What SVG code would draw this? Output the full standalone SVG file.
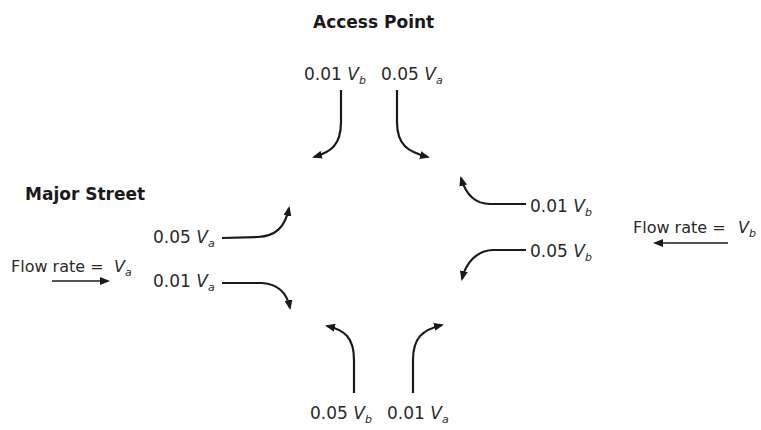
<svg xmlns="http://www.w3.org/2000/svg" width="761" height="430" viewBox="0 0 761 430">
<defs>
<marker id="ah" markerUnits="userSpaceOnUse" markerWidth="10" markerHeight="8" refX="8" refY="4" orient="auto">
<path d="M0,0 L10,4 L0,8 z" fill="#1a1a1a"/>
</marker>
<style>
text{font-family:"DejaVu Sans","Liberation Sans",sans-serif;fill:#2a2a2a;font-size:17px}
.h{font-weight:bold;font-size:17px;fill:#1a1a1a}
.v{font-style:italic}
.s{font-style:italic;font-size:11px}
.fr{font-size:16px}
.c{fill:none;stroke:#1a1a1a;stroke-width:2.2;marker-end:url(#ah)}
.f{fill:none;stroke:#1a1a1a;stroke-width:1.6;marker-end:url(#ah)}
</style>
</defs>
<rect width="761" height="430" fill="#ffffff"/>
<g id="title-access"><text class="h" x="313" y="28">Access Point</text></g>
<g id="title-major"><text class="h" x="25" y="200">Major Street</text></g>
<g id="top-labels">
<text x="304" y="80">0.01 <tspan class="v">V</tspan><tspan class="s" dy="4">b</tspan></text>
<text x="381" y="80">0.05 <tspan class="v">V</tspan><tspan class="s" dy="4">a</tspan></text>
</g>
<g id="left-labels">
<text x="153" y="243">0.05 <tspan class="v">V</tspan><tspan class="s" dy="4">a</tspan></text>
<text x="153" y="287">0.01 <tspan class="v">V</tspan><tspan class="s" dy="4">a</tspan></text>
<text class="fr" x="11" y="272">Flow rate = <tspan class="v" x="114">V</tspan><tspan class="s" dy="4">a</tspan></text>
</g>
<g id="right-labels">
<text x="530" y="212">0.01 <tspan class="v">V</tspan><tspan class="s" dy="4">b</tspan></text>
<text x="530" y="257">0.05 <tspan class="v">V</tspan><tspan class="s" dy="4">b</tspan></text>
<text class="fr" x="633" y="233">Flow rate = <tspan class="v" x="738">V</tspan><tspan class="s" dy="4">b</tspan></text>
</g>
<g id="bottom-labels">
<text x="310" y="419">0.05 <tspan class="v">V</tspan><tspan class="s" dy="4">b</tspan></text>
<text x="387" y="419">0.01 <tspan class="v">V</tspan><tspan class="s" dy="4">a</tspan></text>
</g>
<g id="connectors">
<path class="c" d="M341,90 L341,122 C341,145 331,152 314,157"/>
<path class="c" d="M397,90 L397,122 C397,145 408,152 428,157"/>
<path class="c" d="M222,238 L258,237 C275,236 285,228 289,208"/>
<path class="c" d="M222,283 L262,283 C278,284 287,293 290,308"/>
<path class="c" d="M526,204 L490,204 C475,204 466,195 461,178"/>
<path class="c" d="M526,250 L492,250 C477,251 466,262 462,279"/>
<path class="c" d="M354,393 L354,360 C354,338 345,330 327,326"/>
<path class="c" d="M413,393 L413,360 C413,338 422,330 442,325"/>
<path class="f" d="M52,281 L108,281"/>
<path class="f" d="M728,243 L655,243"/>
</g>
</svg>
